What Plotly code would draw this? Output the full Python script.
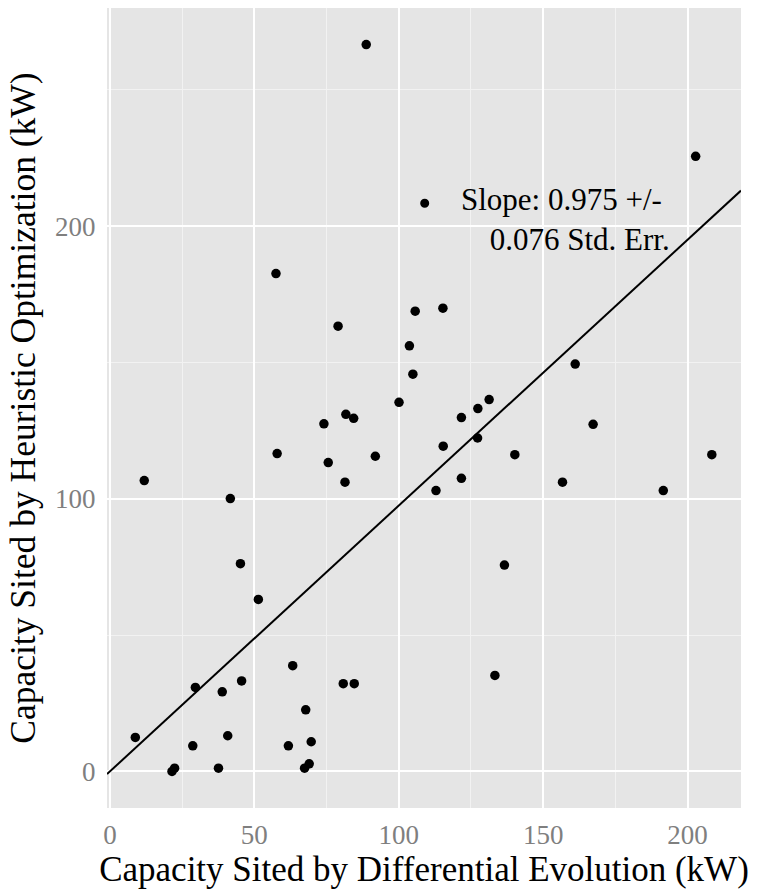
import plotly.graph_objects as go

# Data (kW)
de_capacity = [88.75, 57.5, 202.8, 105.7, 79.0, 103.7, 104.9, 100.1, 81.7, 84.4,
               74.1, 57.9, 75.6, 91.9, 81.4, 11.9, 41.7, 115.3, 161.1, 131.3,
               127.4, 121.7, 167.3, 127.3, 115.4, 140.2, 208.4, 121.7, 156.7, 112.9,
               191.6, 45.2, 51.4, 63.3, 80.8, 84.6, 45.6, 29.6, 38.9, 67.8,
               8.8, 40.8, 28.7, 61.8, 69.7, 22.4, 21.5, 37.6, 69.0, 67.4,
               136.6, 133.3]
heur_capacity = [266.6, 182.6, 225.6, 168.8, 163.3, 156.1, 145.7, 135.4, 131.0, 129.5,
                 127.5, 116.6, 113.3, 115.6, 106.1, 106.7, 100.1, 169.9, 149.4, 136.4,
                 133.1, 129.8, 127.3, 122.3, 119.3, 116.2, 116.2, 107.5, 106.1, 103.0,
                 103.0, 76.2, 63.1, 38.8, 32.2, 32.2, 33.2, 30.8, 29.2, 22.6,
                 12.5, 13.1, 9.4, 9.4, 10.9, 1.2, 0.0, 1.2, 2.8, 1.2,
                 75.7, 35.2]
slope = 0.975
slope_se = 0.076
x_ticks = [0, 50, 100, 150, 200]
y_ticks = [0, 100, 200]
x_range = [-1.0, 218.5]
y_range = [-13.4, 280.0]

FONT = "Liberation Serif"

fig = go.Figure()
fig.add_trace(go.Scatter(
    x=de_capacity, y=heur_capacity, mode="markers",
    marker=dict(color="black", size=9.5, line=dict(width=0)),
    showlegend=False, hoverinfo="skip"))
fig.add_trace(go.Scatter(
    x=x_range, y=[slope * v for v in x_range], mode="lines",
    line=dict(color="black", width=2), showlegend=False, hoverinfo="skip"))

W, H = 757, 890
ml, mr, mt, mb = 107, 16, 8, 82
pw, ph = W - ml - mr, H - mt - mb

def px_to_paper(px, py):
    return (px - ml) / pw, (H - mb - py) / ph

# legend-style key dot and label
dx, dy = px_to_paper(424.7, 203.3)
r = 4.5
fig.add_shape(type="circle", xref="paper", yref="paper",
              x0=dx - r / pw, x1=dx + r / pw, y0=dy - r / ph, y1=dy + r / ph,
              fillcolor="black", line=dict(width=0))
tx, ty = px_to_paper(672, 180)
fig.add_annotation(xref="paper", yref="paper", x=tx, y=ty, xanchor="right", yanchor="top",
                   align="right", showarrow=False,
                   text=f"Slope: {slope} +/-&nbsp;<br>{slope_se:.3f} Std. Err.",
                   font=dict(family=FONT, size=31, color="black"))

fig.update_layout(
    width=W, height=H,
    margin=dict(l=ml, r=mr, t=mt, b=mb, pad=0),
    paper_bgcolor="white", plot_bgcolor="#E5E5E5",
    font=dict(family=FONT, color="black"),
    xaxis=dict(range=x_range, tickvals=x_ticks, showgrid=True, gridcolor="white", gridwidth=2,
               zeroline=False, showline=False, ticks="outside", ticklen=3,
               tickcolor="rgba(0,0,0,0)",
               tickfont=dict(family=FONT, size=27, color="#7f7f7f"),
               minor=dict(dtick=25, tick0=0, showgrid=True, gridcolor="#F2F2F2", gridwidth=1),
               title=dict(text="Capacity Sited by Differential Evolution (kW)",
                          font=dict(family=FONT, size=35, color="black"), standoff=2)),
    yaxis=dict(range=y_range, tickvals=y_ticks, showgrid=True, gridcolor="white", gridwidth=2,
               zeroline=False, showline=False, ticks="outside", ticklen=5,
               tickcolor="rgba(0,0,0,0)",
               tickfont=dict(family=FONT, size=27, color="#7f7f7f"),
               minor=dict(dtick=50, tick0=0, showgrid=True, gridcolor="#F2F2F2", gridwidth=1),
               title=dict(text="Capacity Sited by Heuristic Optimization (kW)",
                          font=dict(family=FONT, size=35.5, color="black"), standoff=8)),
)

fig.write_html("out.html")
